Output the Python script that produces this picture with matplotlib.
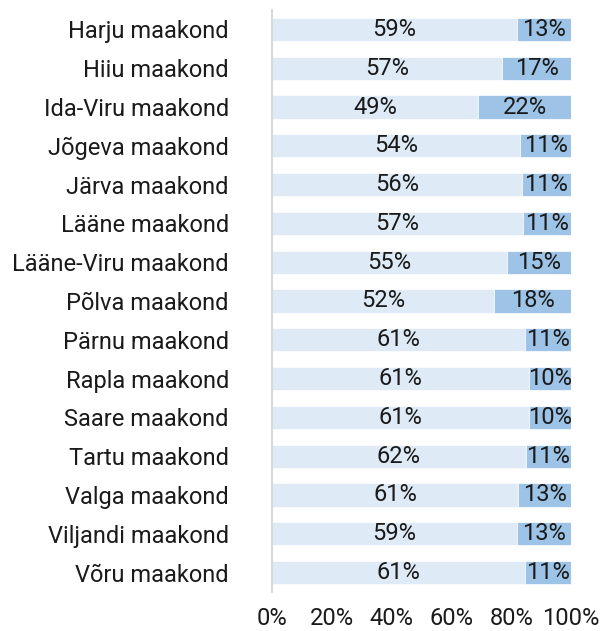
import matplotlib
matplotlib.use("Agg")
import matplotlib.pyplot as plt
import numpy as np

plt.rcParams['font.family'] = ['Roboto', 'DejaVu Sans']

categories = ["Harju maakond", "Hiiu maakond", "Ida-Viru maakond", "Jõgeva maakond",
              "Järva maakond", "Lääne maakond", "Lääne-Viru maakond", "Põlva maakond",
              "Pärnu maakond", "Rapla maakond", "Saare maakond", "Tartu maakond",
              "Valga maakond", "Viljandi maakond", "Võru maakond"]
series_a = [59, 57, 49, 54, 56, 57, 55, 52, 61, 61, 61, 62, 61, 59, 61]
series_b = [13, 17, 22, 11, 11, 11, 15, 18, 11, 10, 10, 11, 13, 13, 11]
x_ticks = [0, 20, 40, 60, 80, 100]
x_tick_labels = ["0%", "20%", "40%", "60%", "80%", "100%"]

a = np.array(series_a, float)
b = np.array(series_b, float)
tot = a + b
a_pct = a / tot * 100
b_pct = b / tot * 100
y = np.arange(len(categories))

fig = plt.figure(figsize=(6, 6.31), dpi=100)
ax = fig.add_axes([272/600, (631-592)/631, 299/600, 582/631])

light = "#deeaf6"
dark = "#9dc3e6"
ax.barh(y, a_pct, height=0.6, color=light, edgecolor="white", linewidth=0.5)
ax.barh(y, b_pct, left=a_pct, height=0.6, color=dark, edgecolor="white", linewidth=0.5)

fs = 17
for i in range(len(categories)):
    ax.text(a_pct[i] / 2, y[i], f"{series_a[i]}%", ha="center", va="center",
            fontsize=fs, color="#1a1a1a")
    ax.text(a_pct[i] + b_pct[i] / 2, y[i], f"{series_b[i]}%", ha="center", va="center",
            fontsize=fs, color="#1a1a1a")

ax.set_xlim(0, 100)
ax.set_ylim(len(categories) - 0.5, -0.5)
ax.set_yticks(y)
ax.set_yticklabels(categories, fontsize=fs, color="#1a1a1a")
ax.set_xticks(x_ticks)
ax.set_xticklabels(x_tick_labels, fontsize=fs, color="#1a1a1a")
ax.tick_params(axis="both", length=0)
ax.tick_params(axis="y", pad=31)
ax.tick_params(axis="x", pad=11)
for s in ["top", "right", "bottom"]:
    ax.spines[s].set_visible(False)
ax.spines["left"].set_color("#d9d9d9")
ax.spines["left"].set_linewidth(1.5)

fig.savefig("out.png", dpi=100)
